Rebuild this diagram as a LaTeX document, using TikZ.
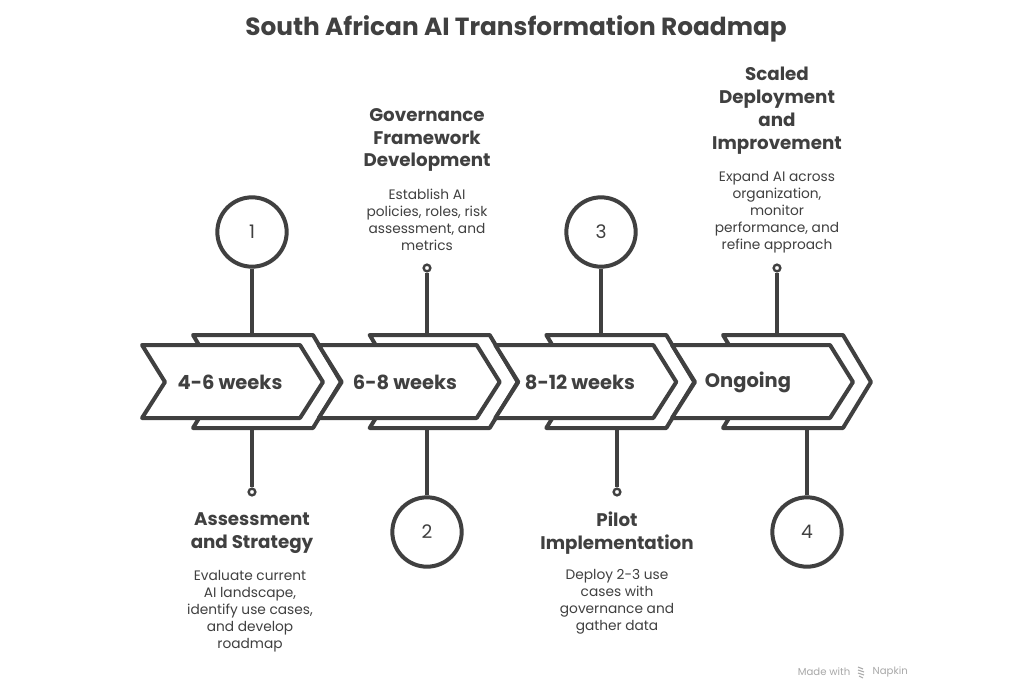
\documentclass[tikz,border=0pt]{standalone}
\usepackage{fontspec}
\setmainfont{Poppins}
\definecolor{ink}{HTML}{404040}
\definecolor{wm}{HTML}{A8A8A8}
\begin{document}
\begin{tikzpicture}[x=0.75pt,y=-0.75pt,
  plate/.style={draw=ink, line width=3pt, fill=white, line join=round},
  stem/.style={draw=ink, line width=3pt},
  num/.style={circle, draw=ink, line width=3pt, fill=white, minimum size=52pt, inner sep=0pt, font=\fontsize{14}{16}\selectfont, text=ink},
  dotnode/.style={circle, draw=ink, line width=1.8pt, fill=white, minimum size=5pt, inner sep=0pt},
  head/.style={align=center, font=\bfseries\fontsize{13.7}{17.2}\selectfont, text=ink},
  desc/.style={align=center, font=\fontsize{10.3}{12.8}\selectfont, text=ink},
  lab/.style={font=\bfseries\fontsize{14.6}{16}\selectfont, text=ink}]
\useasboundingbox (0,0) rectangle (1028,689);
\fill[white] (0,0) rectangle (1028,689);

% title
\node[font=\bfseries\fontsize{18.6}{22}\selectfont, text=ink] (title) at (516,29) {South African AI Transformation Roadmap};

% circles and dots
\node[num] (n1) at (252,232) {1};
\node[num] (n2) at (427,532) {2};
\node[num] (n3) at (601,232) {3};
\node[num] (n4) at (807,532) {4};
\node[dotnode] (d1) at (252,492) {};
\node[dotnode] (d2) at (427,268) {};
\node[dotnode] (d3) at (617,492) {};
\node[dotnode] (d4) at (777,268) {};

% stem anchor coordinates on plates
\coordinate (t1) at (252,337);
\coordinate (t2) at (427,337);
\coordinate (t3) at (601,337);
\coordinate (t4) at (777,337);
\coordinate (b1) at (252,426);
\coordinate (b2) at (427,426);
\coordinate (b3) at (617,426);
\coordinate (b4) at (807,426);

\draw[stem] (n1) -- (t1);
\draw[stem] (d2) -- (t2);
\draw[stem] (n3) -- (t3);
\draw[stem] (d4) -- (t4);
\draw[stem] (b1) -- (d1);
\draw[stem] (b2) -- (n2);
\draw[stem] (b3) -- (d3);
\draw[stem] (b4) -- (n4);

% chevrons
\foreach \dx in {0,176.7,353.3,530}{
  \draw[plate] ({193+\dx},335) -- ({313+\dx},335) -- ({341+\dx},382) -- ({313+\dx},428) -- ({193+\dx},428) -- ({221+\dx},382) -- cycle;
  \draw[plate] ({142+\dx},345) -- ({300+\dx},345) -- ({323+\dx},382) -- ({300+\dx},418) -- ({142+\dx},418) -- ({165+\dx},382) -- cycle;
}

% chevron labels
\node[lab] (l1) at (230,382) {4-6 weeks};
\node[lab] (l2) at (405,382) {6-8 weeks};
\node[lab] (l3) at (580,382) {8-12 weeks};
\node[lab] (l4) at (748,382) {Ongoing};

% texts
\node[head] (h1) at (252,533) {Assessment\\and Strategy};
\node[desc] (e1) at (250,611) {Evaluate current\\AI landscape,\\identify use cases,\\and develop\\roadmap};
\node[head] (h2) at (427,140) {Governance\\Framework\\Development};
\node[desc] (e2) at (427,220) {Establish AI\\policies, roles, risk\\assessment, and\\metrics};
\node[head] (h3) at (617,533) {Pilot\\Implementation};
\node[desc] (e3) at (617,602) {Deploy 2-3 use\\cases with\\governance and\\gather data};
\node[head] (h4) at (777,111) {Scaled\\Deployment\\and\\Improvement};
\node[desc] (e4) at (777,212) {Expand AI across\\organization,\\monitor\\performance, and\\refine approach};

% watermark
\node[font=\fontsize{7.6}{9}\selectfont, text=wm, anchor=east] (wm1) at (855,672) {Made with};
\node[font=\fontsize{7.6}{9}\selectfont, text=wm, anchor=west] (wm2) at (868,672) {Napkin};
\draw[wm, line width=0.8pt] (858,667) -- (863,669) (858,670) -- (864,672) (858,673) -- (864,675) (859,676) -- (863,678);
\end{tikzpicture}
\end{document}
